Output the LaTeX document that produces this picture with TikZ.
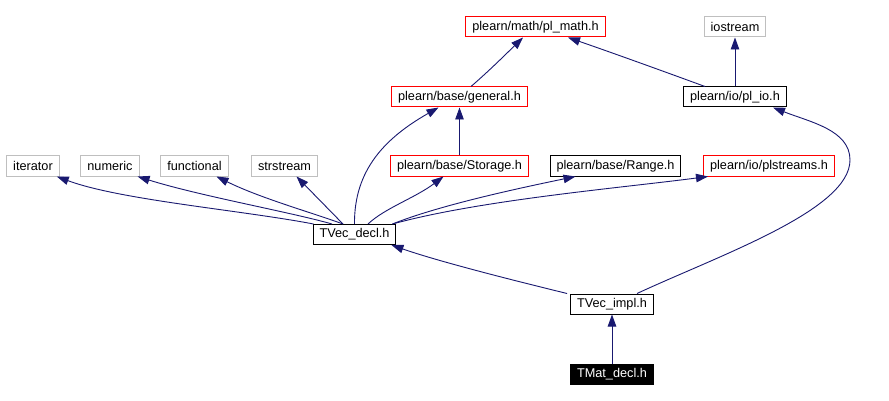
\documentclass[tikz,border=0pt]{standalone}
\usepackage{fontspec}
\setmainfont{Liberation Sans}
\usetikzlibrary{arrows.meta}
\definecolor{midnight}{HTML}{191970}
\definecolor{sysgray}{HTML}{BFBFBF}
\begin{document}
\begin{tikzpicture}[x=1pt,y=-1pt,
  box/.style={draw, line width=1pt, inner xsep=6.5pt, inner ysep=0pt, minimum height=20pt, font=\fontsize{12.7}{14}\selectfont, fill=white},
  sysbox/.style={box, draw=sysgray},
  redbox/.style={box, draw=red},
  blkbox/.style={box, draw=black},
  curbox/.style={box, draw=black, fill=black, text=white},
  edge/.style={draw=midnight, line width=0.9pt, -{Triangle[length=12pt,width=8.5pt]}, midnight}
]
\useasboundingbox[fill=white] (0,0) rectangle (889,401);

\node[redbox] (math) at (535.5,27) {plearn/math/pl\_math.h};
\node[sysbox] (ios) at (735,27) {iostream};
\node[redbox] (gen) at (459.5,97) {plearn/base/general.h};
\node[blkbox] (plio) at (735,97) {plearn/io/pl\_io.h};
\node[sysbox] (iter) at (33,166) {iterator};
\node[sysbox] (num) at (110,166) {numeric};
\node[sysbox] (fun) at (194.5,166) {functional};
\node[sysbox] (sst) at (284.5,166) {strstream};
\node[redbox] (stor) at (459.5,166) {plearn/base/Storage.h};
\node[blkbox] (rng) at (615.5,166) {plearn/base/Range.h};
\node[redbox] (pls) at (769,166) {plearn/io/plstreams.h};
\node[blkbox] (tvd) at (354.5,234.5) {TVec\_decl.h};
\node[blkbox] (tvi) at (612,304) {TVec\_impl.h};
\node[curbox] (tmd) at (612,374.5) {TMat\_decl.h};

% TVec_decl includes
\draw[edge] ([xshift=1]tvd.north west) .. controls (240,210) and (120,200) .. ([xshift=-3]iter.south east);
\draw[edge] ([xshift=-22.5]tvd.north) .. controls (290,212) and (200,196) .. ([xshift=-2]num.south east);
\draw[edge] ([xshift=-11.5]tvd.north) .. controls (310,212) and (260,198) .. ([xshift=22]fun.south);
\draw[edge] ([xshift=-11.5]tvd.north) -- ([xshift=12]sst.south);
\draw[edge] (tvd.north) .. controls (354,170) and (385,138) .. ([xshift=-21]gen.south);
\draw[edge] ([xshift=13.5]tvd.north) .. controls (385,208) and (415,198) .. ([xshift=-16]stor.south);
\draw[edge] ([xshift=-4]tvd.north east) .. controls (440,205) and (520,188) .. ([xshift=-40]rng.south);
\draw[edge] ([xshift=-4]tvd.north east) .. controls (480,200) and (620,188) .. ([xshift=-61]pls.south);

% TVec_impl includes
\draw[edge] ([xshift=-3]tvi.north west) .. controls (520,282) and (440,262) .. ([xshift=-5]tvd.south east);
\draw[edge] ([xshift=25]tvi.north) .. controls (720,255) and (850,210) .. (850,160) .. controls (850,130) and (810,122) .. ([xshift=38]plio.south);

% TMat_decl
\draw[edge] (tmd) -- (tvi);

% upper level
\draw[edge] (stor) -- (gen);
\draw[edge] ([xshift=11.5]gen.north) .. controls (490,70) and (505,55) .. ([xshift=-12.5]math.south);
\draw[edge] ([xshift=-30]plio.north) .. controls (660,70) and (610,52) .. ([xshift=32.5]math.south);
\draw[edge] (plio) -- (ios);
\end{tikzpicture}
\end{document}
